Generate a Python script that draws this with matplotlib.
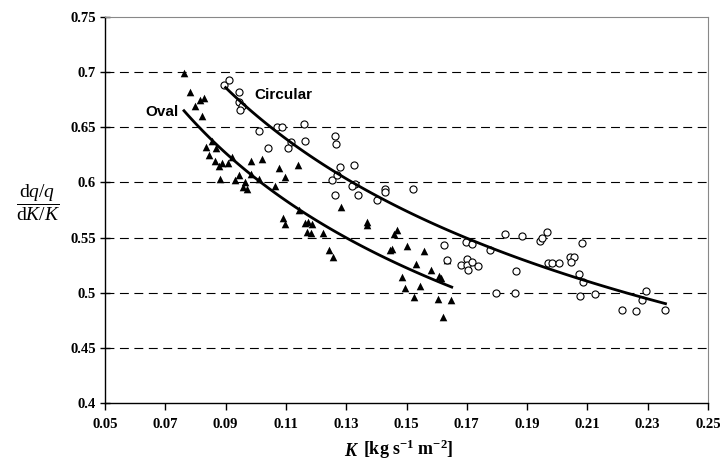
import numpy as np
import matplotlib
matplotlib.use("Agg")
import matplotlib.pyplot as plt

plt.rcParams['mathtext.fontset'] = 'custom'
plt.rcParams['mathtext.rm'] = 'Liberation Serif'
plt.rcParams['mathtext.it'] = 'Liberation Serif:italic'
plt.rcParams['mathtext.bf'] = 'Liberation Serif:bold'

# oval tube data (filled triangles)
oval_k = [0.0763, 0.0782, 0.0797, 0.0815, 0.0829, 0.0821, 0.0854, 0.0835, 0.0844, 0.0868,
          0.0866, 0.0879, 0.0888, 0.0909, 0.0920, 0.0882, 0.0930, 0.0943, 0.0957, 0.0965,
          0.0972, 0.0983, 0.0984, 0.1011, 0.1021, 0.1064, 0.1076, 0.1097, 0.1140, 0.1090,
          0.1098, 0.1143, 0.1163, 0.1174, 0.1185, 0.1171, 0.1182, 0.1223, 0.1283, 0.1368,
          0.1368, 0.1242, 0.1255, 0.1445, 0.1467, 0.1459, 0.1452, 0.1500, 0.1558, 0.1531,
          0.1581, 0.1609, 0.1614, 0.1486, 0.1494, 0.1544, 0.1526, 0.1606, 0.1649, 0.1633,
          0.1620]
oval_v = [0.699, 0.682, 0.669, 0.675, 0.677, 0.660, 0.638, 0.632, 0.625, 0.631,
          0.619, 0.615, 0.618, 0.618, 0.623, 0.603, 0.602, 0.607, 0.596, 0.600,
          0.594, 0.619, 0.608, 0.603, 0.621, 0.597, 0.613, 0.605, 0.616, 0.568,
          0.562, 0.575, 0.563, 0.564, 0.562, 0.555, 0.554, 0.554, 0.578, 0.564,
          0.561, 0.539, 0.532, 0.539, 0.557, 0.553, 0.540, 0.542, 0.538, 0.526,
          0.521, 0.515, 0.513, 0.514, 0.504, 0.506, 0.496, 0.494, 0.493, 0.530,
          0.478]

# circular tube data (open circles)
circ_k = [0.0895, 0.0911, 0.0944, 0.0944, 0.0953, 0.0948, 0.1012, 0.1040, 0.1070, 0.1086,
          0.1117, 0.1107, 0.1160, 0.1164, 0.1263, 0.1265, 0.1278, 0.1253, 0.1268, 0.1263,
          0.1326, 0.1330, 0.1319, 0.1339, 0.1401, 0.1429, 0.1429, 0.1523, 0.1624, 0.1633,
          0.1680, 0.1697, 0.1717, 0.1700, 0.1700, 0.1703, 0.1717, 0.1738, 0.1778, 0.1796,
          0.1827, 0.1859, 0.1862, 0.1884, 0.1942, 0.1948, 0.1967, 0.1970, 0.1981, 0.2006,
          0.2042, 0.2056, 0.2046, 0.2082, 0.2073, 0.2084, 0.2075, 0.2126, 0.2216, 0.2261,
          0.2281, 0.2293, 0.2358]
circ_v = [0.688, 0.693, 0.682, 0.673, 0.669, 0.666, 0.647, 0.631, 0.650, 0.650,
          0.637, 0.631, 0.653, 0.638, 0.642, 0.635, 0.614, 0.602, 0.607, 0.589,
          0.616, 0.599, 0.597, 0.589, 0.584, 0.594, 0.591, 0.594, 0.543, 0.530,
          0.525, 0.546, 0.544, 0.531, 0.525, 0.521, 0.528, 0.524, 0.539, 0.500,
          0.553, 0.500, 0.520, 0.551, 0.547, 0.550, 0.555, 0.527, 0.527, 0.527,
          0.532, 0.532, 0.528, 0.545, 0.517, 0.510, 0.497, 0.499, 0.484, 0.483,
          0.493, 0.502, 0.484]

# power-law trend lines  v = a * K^b, drawn over these ranges
oval_a, oval_b = 0.665 * 0.0762 ** 0.356, -0.356
oval_range = (0.0762, 0.165)
circ_a, circ_b = 0.686 * 0.090 ** 0.349, -0.349
circ_range = (0.090, 0.2359)

x_ticks = [0.05, 0.07, 0.09, 0.11, 0.13, 0.15, 0.17, 0.19, 0.21, 0.23, 0.25]
y_ticks = [0.4, 0.45, 0.5, 0.55, 0.6, 0.65, 0.7, 0.75]

fig = plt.figure(figsize=(7.2, 4.72), dpi=100)
ax = fig.add_axes([105 / 720, 1 - 403 / 472, 603 / 720, 386 / 472])

for yv in y_ticks[1:-1]:
    ax.axhline(yv, color='black', lw=0.8, ls=(0, (8, 5)), zorder=1)

ax.scatter(oval_k, oval_v, marker='^', s=30, color='black', zorder=3, linewidths=0)
ax.scatter(circ_k, circ_v, marker='o', s=26, facecolors='white', edgecolors='black',
           linewidths=0.8, zorder=3)

kk = np.linspace(*oval_range, 100)
ax.plot(kk, oval_a * kk ** oval_b, color='black', lw=2.0, zorder=4)
kk = np.linspace(*circ_range, 100)
ax.plot(kk, circ_a * kk ** circ_b, color='black', lw=2.0, zorder=4)

ax.text(0.0689, 0.664, 'Oval', fontsize=11, fontweight='bold', family='Liberation Sans',
        ha='center', va='center')
ax.text(0.1092, 0.679, 'Circular', fontsize=11, fontweight='bold', family='Liberation Sans',
        ha='center', va='center')

ax.set_xlim(0.05, 0.25)
ax.set_ylim(0.4, 0.75)
ax.set_xticks(x_ticks)
ax.set_yticks(y_ticks)
ax.set_xticklabels([f'{t:g}' for t in x_ticks], family='Liberation Serif',
                   fontweight='bold', fontsize=10.5)
ax.set_yticklabels([f'{t:g}' for t in y_ticks], family='Liberation Serif',
                   fontweight='bold', fontsize=10.5)
ax.tick_params(axis='y', direction='inout', length=7, width=1, pad=3)
ax.tick_params(axis='x', direction='out', length=5, width=1, pad=6)

ax.spines['left'].set_linewidth(1.0)
ax.spines['bottom'].set_linewidth(1.0)
ax.spines['top'].set_color('#888888')
ax.spines['right'].set_color('#888888')
ax.spines['top'].set_linewidth(0.8)
ax.spines['right'].set_linewidth(0.8)

# x label: bold italic K followed by bold unit
fig.text(350 / 720, 1 - 451 / 472, 'K', family='Liberation Serif', fontweight='bold',
         style='italic', fontsize=13, ha='center', va='center')
fig.text(363 / 720, 1 - 449 / 472, r'$\mathbf{[kg\ s^{-1}\ m^{-2}]}$', fontsize=13,
         ha='left', va='center')

fig.text(38 / 720, 1 - 203 / 472,
         r'$\dfrac{\mathrm{d}\mathit{q}/\mathit{q}}{\mathrm{d}\mathit{K}/\mathit{K}}$',
         fontsize=14, ha='center', va='center')

fig.savefig('out.png', dpi=100)
